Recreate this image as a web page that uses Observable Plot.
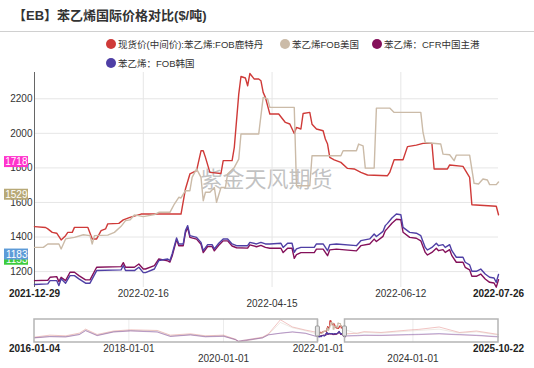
<!DOCTYPE html>
<html><head><meta charset="utf-8">
<script src="https://cdn.jsdelivr.net/npm/d3@7"></script>
<script src="https://cdn.jsdelivr.net/npm/@observablehq/plot@0.6"></script>
<style>
body{margin:0;background:#fff;}
#wrap{position:relative;width:534px;height:368px;overflow:hidden;font-family:"Liberation Sans","Noto Sans CJK SC",sans-serif;}
#wrap svg{position:absolute;left:0;}
#title{position:absolute;left:13px;top:6px;font-weight:bold;font-size:13px;font-family:"Liberation Sans","Noto Sans CJK SC",sans-serif;color:#333;white-space:nowrap;line-height:20px;z-index:2}
#sep{position:absolute;left:0;top:31px;width:534px;height:0;border-top:1px solid #d0d0d0;z-index:2}
.lg{position:absolute;font-size:9.5px;color:#333;white-space:nowrap;height:12px;display:flex;align-items:center;z-index:2}
.lg i{display:inline-block;width:10px;height:10px;border-radius:50%;margin-right:2px;flex:none}
</style>
</head><body>
<div id="wrap"></div>
<script>
// ---------------- data ----------------
const chartTitle = "【EB】苯乙烯国际价格对比($/吨)";
const seriesNames = ["现货价(中间价):苯乙烯:FOB鹿特丹", "苯乙烯FOB美国", "苯乙烯：CFR中国主港", "苯乙烯：FOB韩国"];
const watermark = "紫金天风期货";

const redDates = ["2021-12-29","2022-01-03","2022-01-04","2022-01-06","2022-01-08","2022-01-10","2022-01-12","2022-01-13","2022-01-15","2022-01-16","2022-01-22","2022-01-24","2022-01-26","2022-01-28","2022-01-30","2022-01-31","2022-02-05","2022-02-07","2022-02-10","2022-02-15","2022-02-23","2022-03-05","2022-03-07","2022-03-09","2022-03-12","2022-03-14","2022-03-15","2022-03-16","2022-03-18","2022-03-23","2022-03-24","2022-03-28","2022-03-29","2022-03-31","2022-04-01","2022-04-03","2022-04-04","2022-04-05","2022-04-07","2022-04-09","2022-04-10","2022-04-11","2022-04-12","2022-04-14","2022-04-18","2022-04-21","2022-04-23","2022-04-25","2022-04-26","2022-04-28","2022-04-29","2022-05-02","2022-05-03","2022-05-05","2022-05-08","2022-05-09","2022-05-10","2022-05-11","2022-05-13","2022-05-16","2022-05-19","2022-05-22","2022-05-25","2022-05-28","2022-06-06","2022-06-07","2022-06-09","2022-06-13","2022-06-15","2022-06-19","2022-06-22","2022-06-26","2022-06-27","2022-07-03","2022-07-04","2022-07-10","2022-07-13","2022-07-14","2022-07-25","2022-07-26"];
const redValues = [1460,1455,1447,1427,1422,1383,1408,1427,1427,1456,1456,1389,1389,1437,1447,1476,1479,1499,1514,1533,1533,1533,1678,1765,1784,1899,1899,1861,1774,1768,1842,1842,1919,2227,2329,2320,2275,2346,2314,2314,2304,2237,2208,2112,2112,2063,2054,1999,2034,2025,2115,2121,2053,2025,2015,1967,1938,1861,1847,1832,1797,1794,1774,1759,1755,1774,1847,1847,1923,1932,1942,1942,1794,1794,1817,1809,1745,1587,1578,1529];

const usDates = ["2021-12-29","2022-01-02","2022-01-04","2022-01-09","2022-01-10","2022-01-12","2022-01-16","2022-01-20","2022-01-23","2022-01-24","2022-01-25","2022-01-31","2022-02-03","2022-02-06","2022-02-08","2022-02-10","2022-02-12","2022-02-16","2022-02-21","2022-02-23","2022-02-28","2022-03-02","2022-03-04","2022-03-05","2022-03-07","2022-03-09","2022-03-10","2022-03-12","2022-03-14","2022-03-15","2022-03-16","2022-03-18","2022-03-20","2022-03-21","2022-03-23","2022-03-25","2022-03-26","2022-03-29","2022-03-31","2022-04-01","2022-04-09","2022-04-11","2022-04-13","2022-04-14","2022-04-25","2022-04-26","2022-05-02","2022-05-03","2022-05-16","2022-05-17","2022-05-23","2022-05-24","2022-05-26","2022-05-27","2022-05-31","2022-06-01","2022-06-07","2022-06-09","2022-06-21","2022-06-22","2022-06-23","2022-06-30","2022-07-01","2022-07-04","2022-07-06","2022-07-07","2022-07-13","2022-07-15","2022-07-17","2022-07-19","2022-07-21","2022-07-22","2022-07-25","2022-07-26"];
const usValues = [1340,1340,1360,1360,1331,1389,1398,1413,1408,1360,1408,1411,1427,1462,1495,1499,1528,1518,1530,1543,1543,1591,1630,1626,1668,1668,1745,1794,1745,1610,1659,1659,1687,1601,1687,1687,1765,1803,1851,1996,1996,2208,2199,2150,2150,1697,1697,1870,1870,1899,1899,1938,1928,1799,1799,2146,2146,2121,2121,2005,1947,1938,1880,1876,1842,1874,1874,1711,1707,1736,1730,1703,1703,1718];

const asiaDates = ["2021-12-29","2022-01-04","2022-01-05","2022-01-08","2022-01-09","2022-01-10","2022-01-12","2022-01-14","2022-01-16","2022-01-18","2022-01-21","2022-01-23","2022-01-26","2022-02-06","2022-02-07","2022-02-08","2022-02-12","2022-02-14","2022-02-16","2022-02-17","2022-02-21","2022-02-23","2022-02-27","2022-02-28","2022-03-01","2022-03-03","2022-03-04","2022-03-06","2022-03-07","2022-03-08","2022-03-09","2022-03-12","2022-03-14","2022-03-15","2022-03-17","2022-03-19","2022-03-20","2022-03-22","2022-03-24","2022-03-26","2022-03-28","2022-03-30","2022-04-04","2022-04-05","2022-04-08","2022-04-10","2022-04-12","2022-04-14","2022-04-19","2022-04-20","2022-04-22","2022-04-24","2022-04-25","2022-04-26","2022-04-28","2022-05-04","2022-05-05","2022-05-08","2022-05-10","2022-05-11","2022-05-14","2022-05-23","2022-05-25","2022-05-29","2022-05-31","2022-06-01","2022-06-04","2022-06-05","2022-06-06","2022-06-08","2022-06-10","2022-06-12","2022-06-13","2022-06-16","2022-06-19","2022-06-21","2022-06-23","2022-06-24","2022-06-26","2022-06-28","2022-06-29","2022-07-01","2022-07-02","2022-07-04","2022-07-05","2022-07-07","2022-07-10","2022-07-11","2022-07-13","2022-07-14","2022-07-16","2022-07-18","2022-07-20","2022-07-22","2022-07-24","2022-07-25","2022-07-26"];
const cfrValues = [1148,1150,1167,1171,1142,1167,1148,1196,1196,1177,1152,1152,1225,1229,1252,1225,1225,1244,1215,1215,1235,1273,1262,1255,1290,1385,1350,1350,1425,1455,1398,1388,1358,1310,1345,1345,1320,1352,1378,1378,1348,1338,1336,1355,1344,1352,1340,1335,1335,1310,1335,1335,1277,1298,1310,1310,1330,1330,1292,1326,1330,1320,1350,1360,1388,1374,1404,1436,1450,1480,1503,1500,1428,1398,1393,1378,1311,1296,1311,1335,1321,1327,1311,1327,1292,1254,1254,1225,1210,1173,1173,1186,1157,1138,1134,1110,1153];
const koreaValues = [1125,1129,1148,1148,1119,1158,1133,1177,1177,1158,1133,1133,1206,1210,1235,1206,1206,1225,1194,1194,1215,1264,1273,1264,1302,1395,1360,1360,1437,1466,1408,1398,1369,1321,1356,1356,1331,1364,1389,1389,1360,1350,1350,1369,1360,1369,1360,1360,1364,1340,1364,1364,1312,1331,1340,1340,1360,1360,1321,1356,1360,1350,1379,1389,1418,1403,1433,1466,1479,1510,1533,1529,1456,1427,1422,1408,1340,1325,1340,1364,1350,1356,1340,1356,1321,1283,1283,1254,1239,1202,1202,1215,1186,1167,1163,1138,1183];

// latest-value tags shown at the left (order: drawn bottom to top)
const lastTagValues = [1718, 1529, 1153, 1183];

const yTicks = [1200, 1400, 1600, 1800, 2000, 2200];
const mainTickDates = ["2021-12-29", "2022-02-16", "2022-04-15", "2022-06-12", "2022-07-26"];

// navigator (full history) data
const navBeforeDates = ["2016-01-04","2016-05-01","2016-09-01","2016-12-15","2017-02-01","2017-05-01","2017-09-05","2018-01-14","2018-08-07","2018-11-17","2019-04-21","2019-08-14","2020-01-01","2020-04-02","2020-04-25","2020-10-27","2020-12-13","2021-03-15","2021-06-16","2021-09-24","2021-12-20"];
const navBeforeRed = [1100,1250,1200,1400,1700,1300,1560,1650,1600,1250,1350,1200,1250,950,800,1100,1350,2400,1860,1630,1460];
const navBeforeUS = [1050,1180,1150,1350,1650,1250,1520,1600,1580,1200,1300,1180,1200,900,720,1050,1300,2200,1800,1580,1340];
const navBeforeCFR = [1040,1130,1110,1290,1580,1210,1480,1560,1480,1150,1260,1120,1160,900,750,1040,1270,1390,1480,1380,1148];
const navBeforeKorea = [1060,1150,1130,1300,1600,1230,1500,1580,1500,1160,1280,1140,1180,930,810,1050,1280,1400,1500,1400,1140];
const navAfterDates = ["2022-08-15","2022-10-31","2022-12-20","2023-04-30","2023-11-28","2024-02-13","2024-07-21","2024-12-25","2025-05-05","2025-10-22"];
const navAfterRed = [1350,1400,1510,1450,1630,1680,1860,1450,1560,1300];
const navAfterUS = [1600,1350,1450,1400,1550,1600,1700,1400,1500,1250];
const navAfterCFR = [1180,1200,1230,1220,1270,1290,1340,1270,1220,1110];
const navAfterKorea = [1210,1230,1260,1250,1300,1320,1370,1300,1250,1140];
const navTickDates = ["2016-01-04", "2018-01-01", "2020-01-01", "2022-01-01", "2024-01-01", "2025-10-22"];

// ---------------- styles ----------------
const colors = ["#cf3a38", "#cbbba8", "#84105a", "#4f3fa5"];
const tagFills = ["#ff33cc", "#b8a977", "#3dcc3d", "#5d9bd8"];
const legendPos = [[111, 44], [285, 44], [377, 44], [111, 63]];
const font = "'Liberation Sans','Noto Sans CJK SC',sans-serif";

// ---------------- build ----------------
const parse = d3.utcParse("%Y-%m-%d");
const rows = (dates, vals) => dates.map((d, i) => ({date: parse(d), value: vals[i]}));
const mainSeries = [
  rows(redDates, redValues),
  rows(usDates, usValues),
  rows(asiaDates, cfrValues),
  rows(asiaDates, koreaValues)
];
const mainStart = parse(mainTickDates[0]);
const mainEnd = parse(mainTickDates[mainTickDates.length - 1]);
const mainTicks = mainTickDates.map(parse);

const wrap = document.getElementById("wrap");

const marks = [
  Plot.text([watermark], {frameAnchor: "middle", text: d => d, fontSize: 22, fill: "#999", fillOpacity: 0.6, fontFamily: "'Noto Sans CJK SC',sans-serif"}),
  Plot.gridY({ticks: yTicks, stroke: "#e6e6e6", strokeOpacity: 1}),
  Plot.gridX({ticks: mainTicks.slice(1, -1), stroke: "#e6e6e6", strokeOpacity: 1}),
  Plot.ruleX([mainStart], {stroke: "#666"}),
  Plot.axisY({ticks: yTicks, tickSize: 0, tickPadding: 2, tickFormat: "d", fontSize: 10, fill: "#333", label: null})
];
mainSeries.forEach((s, i) => marks.push(Plot.lineY(s, {x: "date", y: "value", stroke: colors[i], strokeWidth: 1.4})));
// x tick labels: ends bold, middle one staggered
marks.push(Plot.text([mainTicks[0], mainTicks[mainTicks.length - 1]], {x: d => d, text: d => d3.utcFormat("%Y-%m-%d")(d), frameAnchor: "bottom", dy: 9, fontSize: 10, fontWeight: "bold", fill: "#222"}));
marks.push(Plot.text(mainTicks.filter((d, i) => i === 1 || i === 3), {x: d => d, text: d => d3.utcFormat("%Y-%m-%d")(d), frameAnchor: "bottom", dy: 9, fontSize: 10, fill: "#333"}));
marks.push(Plot.text([mainTicks[2]], {x: d => d, text: d => d3.utcFormat("%Y-%m-%d")(d), frameAnchor: "bottom", dy: 19, fontSize: 10, fill: "#333"}));
// latest value tags
lastTagValues.forEach((v, i) => {
  marks.push(Plot.rect([v], {x1: () => mainStart, x2: () => mainStart, y1: d => d, y2: d => d, insetLeft: -30, insetRight: 6, insetTop: -5.5, insetBottom: -5.5, dy: -20, fill: tagFills[i]}));
  marks.push(Plot.text([v], {x: () => mainStart, y: d => d, text: d => String(d), dx: -7, dy: -20, textAnchor: "end", fill: "#fff", fontSize: 10}));
});

const main = Plot.plot({
  width: 534, height: 315,
  marginLeft: 34, marginRight: 36, marginTop: 72, marginBottom: 28,
  x: {type: "utc", domain: [mainStart, mainEnd], axis: null},
  y: {domain: [1108, 2352], axis: null},
  style: {fontFamily: font, fontSize: "10px", background: "transparent", overflow: "visible"},
  marks
});
main.style.top = "0px";
wrap.appendChild(main);

// navigator
const navStart = parse(navTickDates[0]);
const navEnd = parse(navTickDates[navTickDates.length - 1]);
const navTicks = navTickDates.map(parse);
const navFull = [
  [...rows(navBeforeDates, navBeforeRed), ...mainSeries[0], ...rows(navAfterDates, navAfterRed)],
  [...rows(navBeforeDates, navBeforeUS), ...mainSeries[1], ...rows(navAfterDates, navAfterUS)],
  [...rows(navBeforeDates, navBeforeCFR), ...mainSeries[2], ...rows(navAfterDates, navAfterCFR)],
  [...rows(navBeforeDates, navBeforeKorea), ...mainSeries[3], ...rows(navAfterDates, navAfterKorea)]
];
const fmt = d3.utcFormat("%Y-%m-%d");
const navMarks = [
  Plot.gridX({ticks: navTicks.slice(1, -1), stroke: "#ececec", strokeOpacity: 1})
];
navFull.forEach((s, i) => navMarks.push(Plot.lineY(s, {x: "date", y: "value", stroke: colors[i], strokeOpacity: 0.3, strokeWidth: 1})));
mainSeries.forEach((s, i) => navMarks.push(Plot.lineY(s, {x: "date", y: "value", stroke: colors[i], strokeWidth: 1.1})));
navMarks.push(Plot.rect([[navStart, mainStart], [mainEnd, navEnd]], {x1: d => d[0], x2: d => d[1], y1: 700, y2: 2420, fill: "none", stroke: "#b5b5b5", strokeWidth: 1.5}));
navMarks.push(Plot.rect([mainStart, mainEnd], {x1: d => d, x2: d => d, y1: 700, y2: 2420, insetLeft: -2, insetRight: -2, insetTop: 7, insetBottom: 6, fill: "#e2e2e2", stroke: "#999", strokeWidth: 1, rx: 1}));
navMarks.push(Plot.text([navTicks[0], navTicks[navTicks.length - 1]], {x: d => d, text: d => fmt(d), frameAnchor: "bottom", dy: 9, fontSize: 10, fontWeight: "bold", fill: "#222"}));
navMarks.push(Plot.text([navTicks[1], navTicks[3]], {x: d => d, text: d => fmt(d), frameAnchor: "bottom", dy: 9, fontSize: 10, fill: "#333"}));
navMarks.push(Plot.text([navTicks[2], navTicks[4]], {x: d => d, text: d => fmt(d), frameAnchor: "bottom", dy: 19, fontSize: 10, fill: "#333"}));

const nav = Plot.plot({
  width: 534, height: 53,
  marginLeft: 34, marginRight: 36, marginTop: 4, marginBottom: 26,
  x: {type: "utc", domain: [navStart, navEnd], axis: null},
  y: {domain: [700, 2420], axis: null},
  style: {fontFamily: font, fontSize: "10px", background: "transparent", overflow: "visible"},
  marks: navMarks
});
nav.style.top = "315px";
wrap.appendChild(nav);

// title + legend
const t = document.createElement("div");
t.id = "title"; t.textContent = chartTitle; wrap.appendChild(t);
const sep = document.createElement("div"); sep.id = "sep"; wrap.appendChild(sep);
seriesNames.forEach((name, i) => {
  const el = document.createElement("div");
  el.className = "lg";
  el.style.left = (legendPos[i][0] - 5) + "px";
  el.style.top = (legendPos[i][1] - 6) + "px";
  const dot = document.createElement("i");
  dot.style.background = colors[i];
  el.appendChild(dot);
  el.appendChild(document.createTextNode(name));
  wrap.appendChild(el);
});
</script>
</body></html>
